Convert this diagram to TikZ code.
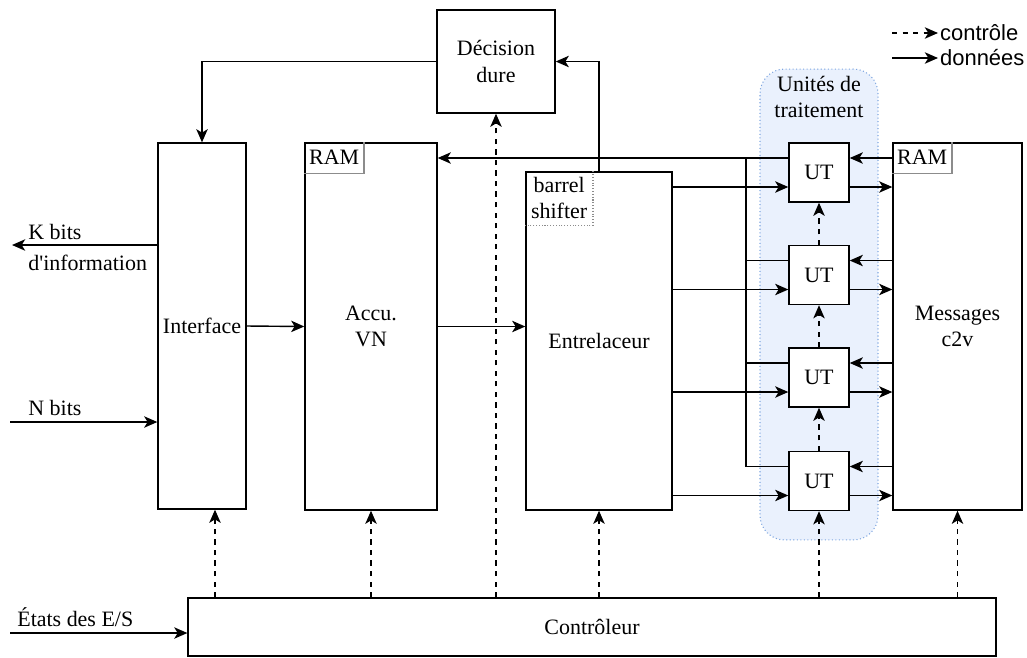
\documentclass[tikz,border=0pt]{standalone}
\usepackage{fontspec}
\setmainfont{Liberation Serif}
\newfontfamily\lgdfont{Liberation Sans}
\usetikzlibrary{positioning,arrows.meta}

\begin{document}
\begin{tikzpicture}[x=0.02cm,y=-0.02cm,
  font=\fontsize{12.5}{15}\selectfont,
  blk/.style={draw, line width=.8pt, align=center, inner sep=0pt},
  dat/.style={line width=.8pt, -{Stealth[length=7.5pt,width=6.5pt,inset=2pt]}},
  ctl/.style={dat, dashed},
  tag/.style={anchor=north west, inner sep=0pt, align=center}]
\definecolor{grpfill}{RGB}{234,241,253}
\definecolor{grpline}{RGB}{126,166,224}
\definecolor{tagline}{gray}{0.55}
\useasboundingbox (0,0) rectangle (1027,657);
% processing units group
\node[draw=grpline, fill=grpfill, line width=.6pt, dash pattern=on .6pt off 1.4pt, rounded corners=14pt,
  minimum width=2.36cm, minimum height=9.42cm] (grp) at (819,304.5) {};
\node[align=center] (grpt) at (819,97) {Unités de\\traitement};
% main blocks
\node[blk, minimum width=2.36cm, minimum height=2.06cm] (dec) at (496,61.5) {Décision\\dure};
\node[blk, minimum width=1.76cm, minimum height=7.32cm] (itf) at (202,326) {Interface};
\node[blk, minimum width=2.64cm, minimum height=7.34cm] (acc) at (371,326.5) {Accu.\\VN};
\node[blk, minimum width=2.92cm, minimum height=6.76cm] (ent) at (599,341) {Entrelaceur};
\node[blk, minimum width=2.58cm, minimum height=7.34cm] (msg) at (957.5,326.5) {Messages\\c2v};
\node[blk, minimum width=16.16cm, minimum height=1.16cm] (ctrl) at (592,627) {Contrôleur};
% memory tags
\node[tag, minimum width=1.18cm, minimum height=.6cm] (ram1) at (acc.north west) {RAM};
\draw[tagline, line width=.6pt] (ram1.north east) |- (ram1.south west);
\node[tag, minimum width=1.18cm, minimum height=.6cm] (ram2) at (msg.north west) {RAM};
\draw[tagline, line width=.6pt] (ram2.north east) |- (ram2.south west);
\node[tag, minimum width=1.34cm, minimum height=1.06cm] (bsh) at (ent.north west) {barrel\\shifter};
\draw[tagline, line width=.6pt, dash pattern=on .6pt off 1pt] (bsh.north east) |- (bsh.south west);
% processing units
\coordinate (bus) at (746,0);
\foreach \i/\y in {1/172.5,2/275,3/377.5,4/481} {
  \node[blk, fill=white, minimum width=1.2cm, minimum height=1.18cm] (ut\i) at (819,\y) {UT};
  \coordinate (ul\i) at ([yshift=.29cm]ut\i.west);
  \coordinate (ll\i) at ([yshift=-.29cm]ut\i.west);
  \coordinate (ur\i) at ([yshift=.29cm]ut\i.east);
  \coordinate (lr\i) at ([yshift=-.29cm]ut\i.east);
  \draw[dat] (ent.east |- ll\i) -- (ll\i);
  \draw[dat] (msg.west |- ur\i) -- (ur\i);
  \draw[dat] (lr\i) -- (msg.west |- lr\i);
}
\foreach \i in {2,3,4}
  \draw[line width=.8pt] (ul\i) -| (bus |- ul1);
\draw[dat] (ul1) -- (acc.east |- ul1);
\foreach \a/\b in {4/3,3/2,2/1}
  \draw[ctl] (ut\a.north) -- (ut\b.south);
% data path
\draw[dat] (itf.east) -- (acc.west);
\draw[dat] (acc.east) -- (acc.east -| ent.west);
\draw[dat] (ent.north) |- (dec.east);
\draw[dat] (dec.west) -| (itf.north);
% control from the controller
\coordinate (itfc) at ([xshift=.26cm]itf.south);
\draw[ctl] (itfc |- ctrl.north) -- (itfc);
\foreach \n in {acc,dec,ent,ut4,msg}
  \draw[ctl] (\n.south |- ctrl.north) -- (\n.south);
% inputs and outputs
\coordinate (kout) at (12,245);
\draw[dat] (itf.west |- kout) -- (kout);
\node[anchor=west, inner sep=0pt] (klab) at (28,232) {K bits};
\node[anchor=west, inner sep=0pt] (klab2) at (28,263) {d\textquotesingle information};
\coordinate (nin) at (10,422);
\draw[dat] (nin) -- (itf.west |- nin);
\node[anchor=west, inner sep=0pt] (nlab) at (28,408) {N bits};
\coordinate (esin) at (10,633);
\draw[dat] (esin) -- (ctrl.west |- esin);
\node[anchor=west, inner sep=0pt] (eslab) at (17,617) {États des E/S};
% legend
\node[anchor=west, inner sep=1pt, font=\lgdfont\fontsize{12.5}{15}\selectfont] (lctl) at (938,33) {contrôle};
\node[anchor=west, inner sep=1pt, font=\lgdfont\fontsize{12.5}{15}\selectfont] (ldat) at (938,58) {données};
\coordinate (lc) at (892,33);
\coordinate (ld) at (892,58);
\draw[ctl] (lc) -- (lctl.west);
\draw[dat] (ld) -- (ldat.west);
\end{tikzpicture}
\end{document}
